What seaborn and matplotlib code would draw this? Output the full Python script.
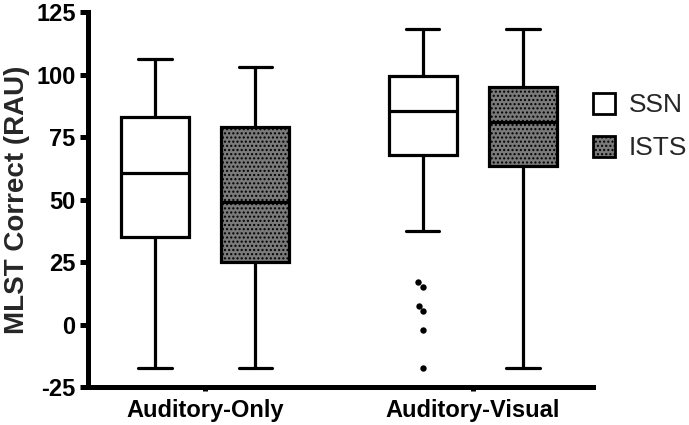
import pandas as pd
import matplotlib
matplotlib.use("Agg")
import matplotlib.pyplot as plt
import seaborn as sns
from matplotlib.patches import Patch

# Conditions and noise types
conditions = ["Auditory-Only", "Auditory-Visual"]
noises = ["SSN", "ISTS"]

# Box summaries, order: AO-SSN, AO-ISTS, AV-SSN, AV-ISTS
whisker_low = [-17.3, -17.3, 37.5, -17.4]
q1 = [34.9, 24.9, 67.8, 63.4]
median = [60.5, 48.9, 85.5, 81.1]
q3 = [83.1, 78.9, 99.5, 95.1]
whisker_high = [106.2, 102.9, 118.1, 118.1]

# Outliers (Auditory-Visual, SSN)
av_ssn_outliers = [16.9, 15.1, 7.4, 5.3, -2.3, -17.4]

yticks = [-25, 0, 25, 50, 75, 100, 125]

sns.set_theme(style="ticks")
plt.rcParams["font.family"] = ["Liberation Sans", "DejaVu Sans"]
plt.rcParams["hatch.linewidth"] = 1.0

fig = plt.figure(figsize=(6.89, 4.25), dpi=100)
ax = fig.add_axes([88 / 689, 1 - 387 / 425, 505 / 689, 375 / 425])

offset = 0.75 / 4
positions = [c + d for c in range(len(conditions)) for d in (-offset, offset)]

# outlier points via swarmplot at the AV-SSN box position
out_df = pd.DataFrame({
    "pos": positions[2],
    "value": av_ssn_outliers,
})
sns.swarmplot(data=out_df, x="pos", y="value", native_scale=True,
              color="black", size=4.6, ax=ax)

# boxes from summary statistics
stats = []
for i in range(len(q1)):
    stats.append({"med": median[i], "q1": q1[i], "q3": q3[i],
                  "whislo": whisker_low[i], "whishi": whisker_high[i],
                  "fliers": []})
lw = 2.3
bp = ax.bxp(stats, positions=positions, widths=0.255, capwidths=0.125,
            patch_artist=True, manage_ticks=False, showfliers=False,
            boxprops=dict(linewidth=lw, edgecolor="black"),
            whiskerprops=dict(linewidth=lw, color="black"),
            capprops=dict(linewidth=lw, color="black"),
            medianprops=dict(linewidth=lw, color="black"))
for i, box in enumerate(bp["boxes"]):
    if i % 2 == 0:
        box.set_facecolor("white")
    else:
        box.set_facecolor("#7a7a7a")
        box.set_hatch("....")

ax.set_xlim(-0.437, 1.448)
ax.set_ylim(-25, 125)
ax.set_yticks(yticks)
ax.set_yticklabels([str(t) for t in yticks], fontsize=17, fontweight="bold")
ax.set_xticks(range(len(conditions)))
ax.set_xticklabels(conditions, fontsize=17, fontweight="bold")
ax.set_xlabel("")
ax.set_ylabel("MLST Correct (RAU)", fontsize=20, fontweight="bold", labelpad=4)
ax.tick_params(axis="y", direction="out", length=6, width=3.6, pad=3, colors="black")
ax.tick_params(axis="x", direction="out", length=3, width=3.6, pad=6, colors="black")
for side in ["left", "bottom"]:
    ax.spines[side].set_linewidth(3.6)
    ax.spines[side].set_color("black")
sns.despine(ax=ax)

handles = [Patch(facecolor="white", edgecolor="black", linewidth=2),
           Patch(facecolor="#7a7a7a", edgecolor="black", linewidth=2, hatch="....")]
fig.legend(handles, noises, loc="center left",
           bbox_to_anchor=(593 / 689, 1 - 126.5 / 425), frameon=False,
           fontsize=19, handlelength=0.85, handleheight=0.85,
           handletextpad=0.5, labelspacing=0.7, borderpad=0, borderaxespad=0)

fig.savefig("out.png", dpi=100)
